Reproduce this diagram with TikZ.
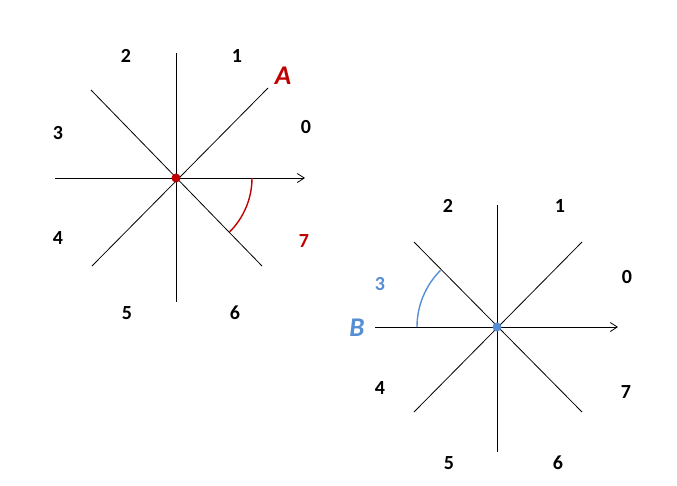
\documentclass[tikz,border=0pt]{standalone}
\usepackage{fontspec}
\setmainfont{Carlito}
\usetikzlibrary{arrows.meta}
\definecolor{ared}{HTML}{C00000}
\definecolor{bblue}{HTML}{558ED5}
\tikzset{ln/.style={line width=0.8pt,black},
 arr/.style={ln,-{Straight Barb[length=7pt,width=9pt]}},
 lab/.style={font=\fontsize{20}{20}\selectfont\bfseries},
 big/.style={font=\fontsize{27}{27}\selectfont\bfseries\itshape}}
\begin{document}
\begin{tikzpicture}[x=1pt,y=-1pt]
\useasboundingbox (0,0) rectangle (677,485);
% A
\coordinate (A) at (176,178);
\coordinate (An) at (176,53); \coordinate (As) at (176,302);
\coordinate (Aw) at (55,178); \coordinate (Ae) at (305,178);
\coordinate (Anw) at (91,90); \coordinate (Ase) at (262,266);
\coordinate (Ane) at (268,88); \coordinate (Asw) at (92,266);
\draw[ln] (An) -- (As); \draw[arr] (Aw) -- (Ae);
\draw[ln] (Anw) -- (Ase); \draw[ln] (Ane) -- (Asw);
\draw[ared,line width=1.4pt] (252,178) arc[start angle=0,end angle=45,radius=76];
\fill[ared] (A) circle (4.5);
\node[lab] (a2) at (126,56) {2}; \node[lab] (a1) at (237,56) {1};
\node[big,ared] (aA) at (283,76) {A}; \node[lab] (a0) at (306,127) {0};
\node[lab] (a3) at (58,133) {3}; \node[lab] (a4) at (58,238) {4};
\node[lab,ared] (a7) at (304,241) {7};
\node[lab] (a5) at (127,313) {5}; \node[lab] (a6) at (235,313) {6};
% B
\coordinate (B) at (497,327);
\coordinate (Bn) at (497,205); \coordinate (Bs) at (497,452);
\coordinate (Bw) at (375,327); \coordinate (Be) at (618,327);
\coordinate (Bnw) at (414,242); \coordinate (Bse) at (582,412);
\coordinate (Bne) at (582,242); \coordinate (Bsw) at (414,412);
\draw[ln] (Bn) -- (Bs); \draw[arr] (Bw) -- (Be);
\draw[ln] (Bnw) -- (Bse); \draw[ln] (Bne) -- (Bsw);
\draw[bblue,line width=1.4pt] (417,327) arc[start angle=180,end angle=225,radius=80];
\fill[bblue] (B) circle (4.5);
\node[lab] (b2) at (448,206) {2}; \node[lab] (b1) at (560,206) {1};
\node[lab] (b0) at (627,277) {0}; \node[lab,bblue] (b3) at (380,284) {3};
\node[big,bblue] (bB) at (357,328) {B};
\node[lab] (b4) at (380,388) {4}; \node[lab] (b7) at (626,392) {7};
\node[lab] (b5) at (449,463) {5}; \node[lab] (b6) at (558,463) {6};
\end{tikzpicture}
\end{document}
